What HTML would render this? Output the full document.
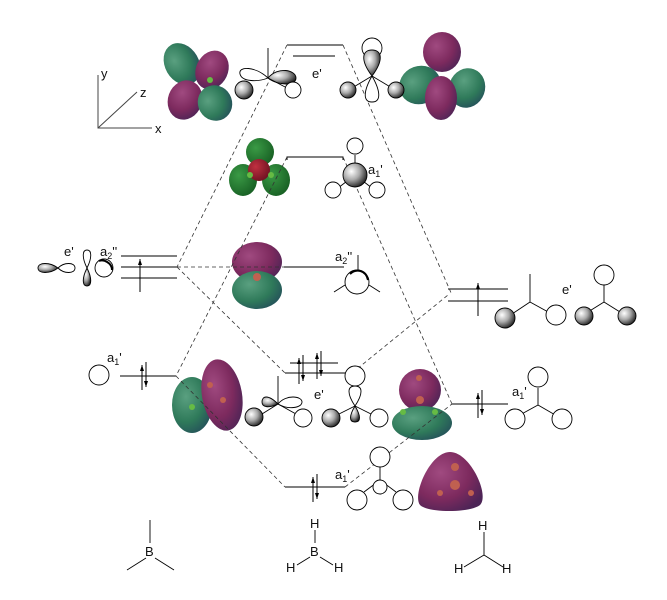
<!DOCTYPE html>
<html><head><meta charset="utf-8"><style>
html,body{margin:0;padding:0;background:#fff}
svg{display:block}
text{font-family:"Liberation Sans",sans-serif;font-size:13px;fill:#111}
</style></head><body>
<svg width="667" height="600" viewBox="0 0 667 600" xmlns="http://www.w3.org/2000/svg">
<defs>
<radialGradient id="sph" cx="0.35" cy="0.35" r="0.7"><stop offset="0" stop-color="#fff"/><stop offset="0.5" stop-color="#aaa"/><stop offset="1" stop-color="#222"/></radialGradient>
<radialGradient id="gr" cx="0.35" cy="0.35" r="0.75"><stop offset="0" stop-color="#5aa080"/><stop offset="0.6" stop-color="#2f7a5a"/><stop offset="1" stop-color="#244f5a"/></radialGradient>
<radialGradient id="gr2" cx="0.35" cy="0.35" r="0.75"><stop offset="0" stop-color="#3a9a45"/><stop offset="1" stop-color="#165d22"/></radialGradient>
<radialGradient id="pu" cx="0.35" cy="0.35" r="0.75"><stop offset="0" stop-color="#a04a80"/><stop offset="0.6" stop-color="#7d2a5e"/><stop offset="1" stop-color="#4c2456"/></radialGradient>
<radialGradient id="rd" cx="0.35" cy="0.35" r="0.75"><stop offset="0" stop-color="#c03040"/><stop offset="1" stop-color="#6a1020"/></radialGradient>
</defs>
<g stroke="#000" stroke-width="1" fill="none">
<path d="M98 75V128H152M98 128L137 92" stroke="#444"/>
<path d="M287 45H343M293 56H335"/>
<path d="M287 160V157H343V160"/>
<path d="M121 256H177M121 267H177M121 278H177"/>
<path d="M284 267H344"/>
<path d="M448 289H508M448 301H508"/>
<path d="M120 376H176"/>
<path d="M290 363H338M285 373H352"/>
<path d="M452 404H508"/>
<path d="M285 487H345"/>
<path d="M140 259V292M478 283V316"/>
<path d="M142 365V390M146 362V387"/>
<path d="M299 358V384M303 355V381M317 353V379M321 351V376"/>
<path d="M478 393V418M482 390V415"/>
<path d="M313 477V502M317 474V499"/>
</g>
<g fill="#000">
<path d="M140 259l-2 6h4z"/><path d="M478 283l-2 6h4z"/>
<path d="M142 365l-2 6h4z"/><path d="M146 387l-2-6h4z"/>
<path d="M299 358l-2 6h4z"/><path d="M303 381l-2-6h4z"/><path d="M317 353l-2 6h4z"/><path d="M321 376l-2-6h4z"/>
<path d="M478 393l-2 6h4z"/><path d="M482 415l-2-6h4z"/>
<path d="M313 477l-2 6h4z"/><path d="M317 499l-2-6h4z"/>
</g>
<ellipse cx="182" cy="64" rx="17" ry="22" transform="rotate(-30 182 64)" fill="url(#gr)"/>
<ellipse cx="212" cy="70" rx="16" ry="20" transform="rotate(25 212 70)" fill="url(#pu)"/>
<ellipse cx="185" cy="100" rx="17" ry="20" transform="rotate(20 185 100)" fill="url(#pu)"/>
<ellipse cx="215" cy="103" rx="17" ry="18" transform="rotate(-30 215 103)" fill="url(#gr)"/>
<ellipse cx="442" cy="52" rx="19" ry="20" fill="url(#pu)"/>
<ellipse cx="420" cy="85" rx="21" ry="19" transform="rotate(-20 420 85)" fill="url(#gr)"/>
<ellipse cx="467" cy="88" rx="18" ry="20" transform="rotate(20 467 88)" fill="url(#gr)"/>
<ellipse cx="441" cy="98" rx="16" ry="22" fill="url(#pu)"/>
<ellipse cx="260" cy="152" rx="14" ry="14" fill="url(#gr2)"/>
<ellipse cx="243" cy="180" rx="14" ry="16" fill="url(#gr2)"/>
<ellipse cx="276" cy="180" rx="14" ry="16" fill="url(#gr2)"/>
<ellipse cx="259" cy="170" rx="11" ry="11" fill="url(#rd)"/>
<ellipse cx="257" cy="262" rx="25" ry="20" fill="url(#pu)"/>
<ellipse cx="257" cy="290" rx="25" ry="19" fill="url(#gr)"/>
<circle cx="257" cy="277" r="4" fill="#c06050"/>
<ellipse cx="192" cy="405" rx="20" ry="28" fill="url(#gr)"/>
<ellipse cx="222" cy="395" rx="20" ry="36" transform="rotate(-10 222 395)" fill="url(#pu)"/>
<ellipse cx="420" cy="390" rx="21" ry="21" fill="url(#pu)"/>
<ellipse cx="422" cy="423" rx="30" ry="17" fill="url(#gr)"/>
<path d="M450 452C470 452 490 495 480 505C470 513 428 513 420 505C412 495 430 452 450 452Z" fill="url(#pu)"/>
<g fill="#c06050"><circle cx="455" cy="467" r="4"/><circle cx="455" cy="485" r="5"/><circle cx="440" cy="493" r="3"/><circle cx="471" cy="493" r="3"/><circle cx="419" cy="378" r="3"/><circle cx="420" cy="400" r="4"/><circle cx="210" cy="385" r="3"/><circle cx="223" cy="400" r="3"/></g>
<g fill="#66bb44"><circle cx="403" cy="412" r="3"/><circle cx="435" cy="412" r="3"/><circle cx="192" cy="407" r="3"/><circle cx="210" cy="80" r="3"/><circle cx="250" cy="175" r="3"/><circle cx="271" cy="175" r="3"/></g>
<g stroke="#333" stroke-width="0.8" fill="none" stroke-dasharray="4,3">
<path d="M287 45L177 267M343 45L452 295"/>
<path d="M287 157L176 376M343 157L452 404"/>
<path d="M177 267H284"/>
<path d="M177 267L285 373M352 373L448 295"/>
<path d="M176 376L285 487M345 487L452 404"/>
</g>
<g stroke="#000" stroke-width="0.9" fill="none">
<path d="M268 48V78"/>
<path d="M268 78C255 66 238 66 240 74C242 82 258 82 268 78Z"/>
<path d="M268 78C278 66 296 70 296 78C296 86 278 86 268 78Z" fill="url(#sph)"/>
<path d="M268 78L287 88"/><circle cx="293" cy="90" r="8" fill="#fff"/>
<circle cx="244" cy="90" r="9" fill="url(#sph)"/>
<circle cx="372" cy="48" r="10" fill="#fff"/>
<path d="M372 76C360 60 362 50 372 50C382 50 384 60 372 76Z" fill="url(#sph)"/>
<path d="M372 76C380 90 382 102 372 102C362 102 364 90 372 76Z" fill="#fff"/>
<path d="M372 76L352 88M372 76L392 88"/>
<circle cx="348" cy="90" r="8" fill="url(#sph)"/><circle cx="396" cy="90" r="8" fill="url(#sph)"/>
<path d="M355 175V155M355 175L338 188M355 175L372 188"/>
<circle cx="355" cy="146" r="8" fill="#fff"/><circle cx="333" cy="190" r="8" fill="#fff"/><circle cx="377" cy="190" r="8" fill="#fff"/>
<circle cx="355" cy="175" r="12" fill="url(#sph)"/>
<path d="M358 255V273M345 285L334 292M369 285L380 292"/>
<circle cx="357" cy="282" r="12" fill="#fff"/>
<path d="M350 274C356 268 366 270 368 280" stroke-width="2"/>
<!-- left B e', a2'' -->
<path d="M58 268C50 262 38 262 38 268C38 274 50 274 58 268Z" fill="url(#sph)"/>
<path d="M58 268C64 262 75 262 75 268C75 274 64 274 58 268Z"/>
<path d="M87 268C82 258 82 250 87 250C92 250 92 258 87 268Z"/>
<path d="M87 268C82 278 82 286 87 286C92 286 92 278 87 268Z" fill="url(#sph)"/>
<circle cx="104" cy="268" r="9" fill="#fff"/>
<path d="M99 261C104 259 112 263 112 270" stroke-width="2"/>
<circle cx="99" cy="375" r="10" fill="#fff"/>
<path d="M530 274V302L512 314M530 302L550 313"/>
<circle cx="505" cy="318" r="10" fill="url(#sph)"/><circle cx="556" cy="315" r="10" fill="#fff"/>
<path d="M604 285V302L588 312M604 302L620 312"/>
<circle cx="604" cy="275" r="10" fill="#fff"/><circle cx="584" cy="316" r="9" fill="url(#sph)"/><circle cx="627" cy="316" r="9" fill="url(#sph)"/>
<path d="M538 388V405L518 416M538 405L557 416"/>
<circle cx="538" cy="377" r="10" fill="#fff"/><circle cx="515" cy="419" r="10" fill="#fff"/><circle cx="562" cy="419" r="10" fill="#fff"/>
<path d="M278 376V404M278 404L262 414M278 404L296 414"/>
<path d="M278 404C268 394 262 396 262 402C262 408 270 408 278 404Z" fill="url(#sph)"/>
<path d="M278 404C286 394 302 396 302 402C302 408 288 410 278 404Z"/>
<circle cx="254" cy="417" r="9" fill="url(#sph)"/><circle cx="303" cy="418" r="9" fill="#fff"/>
<circle cx="355" cy="376" r="10" fill="#fff"/>
<path d="M355 406C347 394 347 386 355 386C363 386 363 394 355 406Z"/>
<path d="M355 406C349 416 349 422 355 422C361 422 361 416 355 406Z" fill="url(#sph)"/>
<path d="M355 406L335 416M355 406L375 416"/>
<circle cx="331" cy="418" r="9" fill="url(#sph)"/><circle cx="379" cy="418" r="9" fill="#fff"/>
<path d="M380 462V480L364 492M380 480L396 492"/>
<circle cx="380" cy="457" r="10" fill="#fff"/><circle cx="380" cy="487" r="7" fill="#fff"/>
<circle cx="357" cy="500" r="10" fill="#fff"/><circle cx="403" cy="500" r="10" fill="#fff"/>
<path d="M150 520V543M146 558L127 570M155 558L174 570"/>
<path d="M315 530V543M310 557L297 565M320 557L333 565"/>
<path d="M484 532V555L464 567M484 555L503 567"/>
</g>
<text x="101" y="78">y</text><text x="140" y="97">z</text><text x="155" y="133">x</text>
<text x="312" y="78">e'</text>
<text x="368" y="174">a<tspan font-size="9" dy="3">1</tspan><tspan dy="-3">'</tspan></text>
<text x="64" y="256">e'</text>
<text x="100" y="256">a<tspan font-size="9" dy="3">2</tspan><tspan dy="-3">''</tspan></text>
<text x="335" y="261">a<tspan font-size="9" dy="3">2</tspan><tspan dy="-3">''</tspan></text>
<text x="562" y="294">e'</text>
<text x="107" y="362">a<tspan font-size="9" dy="3">1</tspan><tspan dy="-3">'</tspan></text>
<text x="314" y="399">e'</text>
<text x="512" y="396">a<tspan font-size="9" dy="3">1</tspan><tspan dy="-3">'</tspan></text>
<text x="335" y="479">a<tspan font-size="9" dy="3">1</tspan><tspan dy="-3">'</tspan></text>
<text x="145" y="556">B</text>
<text x="310" y="528">H</text><text x="310" y="556">B</text><text x="286" y="572">H</text><text x="334" y="572">H</text>
<text x="478" y="530">H</text><text x="454" y="573">H</text><text x="502" y="573">H</text>
</svg>
</body></html>
